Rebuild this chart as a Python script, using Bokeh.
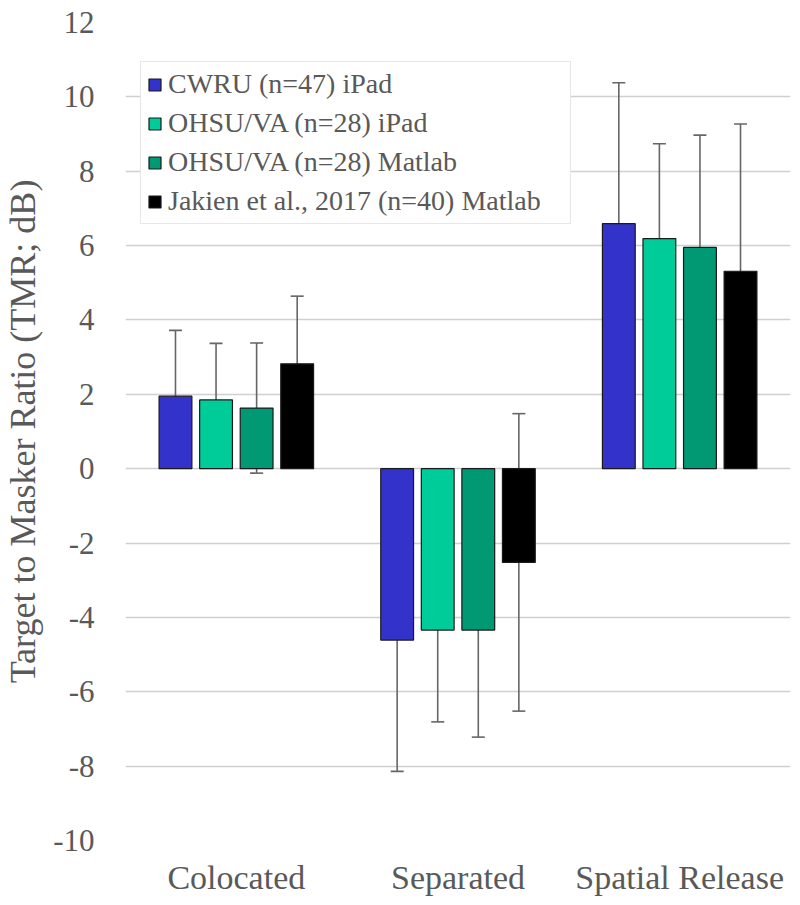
from bokeh.plotting import figure
from bokeh.models import (ColumnDataSource, FactorRange, Range1d, Whisker, TeeHead,
                          Legend, LegendItem, FixedTicker)
from bokeh.transform import dodge
from bokeh.embed import file_html
from bokeh.resources import INLINE

categories = ["Colocated", "Separated", "Spatial Release"]
series_names = ["CWRU (n=47) iPad", "OHSU/VA (n=28) iPad",
                "OHSU/VA (n=28) Matlab", "Jakien et al., 2017 (n=40) Matlab"]
cwru_ipad = [1.95, -4.61, 6.59]
cwru_ipad_sd = [1.77, 3.53, 3.79]
ohsu_ipad = [1.85, -4.34, 6.19]
ohsu_ipad_sd = [1.52, 2.47, 2.55]
ohsu_matlab = [1.63, -4.34, 5.95]
ohsu_matlab_sd = [1.75, 2.88, 3.02]
jakien_matlab = [2.82, -2.52, 5.31]
jakien_matlab_sd = [1.82, 4.0, 3.96]
y_ticks = [-10, -8, -6, -4, -2, 0, 2, 4, 6, 8, 10, 12]

series = [cwru_ipad, ohsu_ipad, ohsu_matlab, jakien_matlab]
sds = [cwru_ipad_sd, ohsu_ipad_sd, ohsu_matlab_sd, jakien_matlab_sd]
colors = ["#3333CC", "#00CC99", "#009973", "#000000"]
offsets = [-0.2745, -0.0915, 0.0915, 0.2745]

FONT = "'Liberation Serif', 'Times New Roman', serif"
GRAY = "#595959"

p = figure(width=800, height=903, x_range=FactorRange(*categories, range_padding=0),
           y_range=Range1d(-10, 12), output_backend="svg", toolbar_location=None,
           min_border_left=122, min_border_right=10, min_border_top=22, min_border_bottom=63)
p.outline_line_color = None
p.xgrid.grid_line_color = None
p.ygrid.grid_line_color = "#d0d0d0"
p.ygrid.grid_line_width = 1.5
p.yaxis.ticker = FixedTicker(ticks=y_ticks)
p.yaxis.major_label_overrides = {t: str(t) for t in y_ticks}

for ax in (p.xaxis[0], p.yaxis[0]):
    ax.axis_line_color = None
    ax.major_tick_line_color = None
    ax.minor_tick_line_color = None
    ax.major_tick_out = 0
    ax.major_tick_in = 0
    ax.minor_tick_out = 0
    ax.minor_tick_in = 0
    ax.major_label_text_font = FONT
    ax.major_label_text_color = GRAY

p.yaxis.major_label_text_font_size = "31px"
p.yaxis.major_label_standoff = 31
p.yaxis.axis_label = "Target to Masker Ratio (TMR; dB)"
p.yaxis.axis_label_text_font = FONT
p.yaxis.axis_label_text_font_size = "36px"
p.yaxis.axis_label_text_font_style = "normal"
p.yaxis.axis_label_text_color = GRAY
p.yaxis.axis_label_standoff = 7
p.xaxis.major_label_text_font_size = "34px"
p.xaxis.major_label_standoff = 18

items = []
for name, vals, sd, col, off in zip(series_names, series, sds, colors, offsets):
    src = ColumnDataSource(dict(cat=categories, val=vals,
                                upper=[v + s for v, s in zip(vals, sd)],
                                lower=[v - s for v, s in zip(vals, sd)]))
    r = p.vbar(x=dodge("cat", off, range=p.x_range), top="val", bottom=0, width=0.148,
               source=src, fill_color=col, line_color="#1a1a1a", line_width=1.2)
    w = Whisker(base=dodge("cat", off, range=p.x_range), upper="upper", lower="lower",
                source=src, line_color="#666666", line_width=1.6,
                upper_head=TeeHead(size=13, line_color="#666666", line_width=1.6),
                lower_head=TeeHead(size=13, line_color="#666666", line_width=1.6))
    p.add_layout(w)
    items.append(LegendItem(label=name, renderers=[r]))

legend = Legend(items=items, location=(15, 616), orientation="vertical")
legend.label_text_font = FONT
legend.label_text_font_size = "28px"
legend.label_text_color = GRAY
legend.glyph_width = 15
legend.glyph_height = 15
legend.label_standoff = 6
legend.label_width = 396
legend.spacing = 7
legend.padding = 6
legend.margin = 0
legend.border_line_color = "#d0d0d0"
legend.border_line_width = 1.5
legend.background_fill_color = "white"
legend.background_fill_alpha = 1.0
p.add_layout(legend, "center")

open("out.html", "w").write(file_html(p, INLINE))
